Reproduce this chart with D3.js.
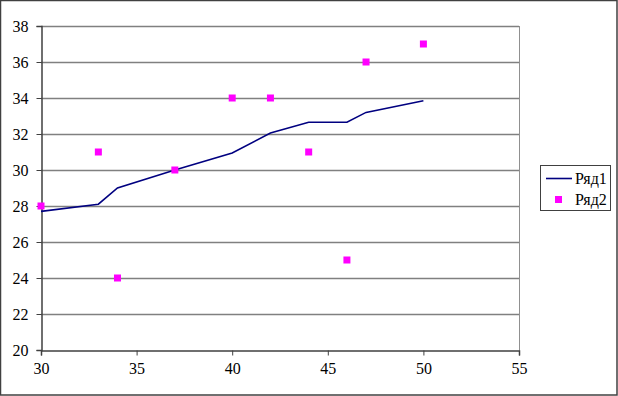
<!DOCTYPE html>
<html>
<head>
    <script src="https://d3js.org/d3.v7.min.js"></script>
    <style>
        body { margin: 0; background: #fff; }
    </style>
</head>
<body>
    <svg width="618" height="396"></svg>
    <script>
        // data
        const lineX = [30, 33, 34, 37, 40, 42, 44, 46, 47, 50];
        const lineY = [27.7, 28.1, 29.0, 30.0, 30.95, 32.05, 32.65, 32.65, 33.2, 33.85];
        const dotX = [30, 33, 34, 37, 40, 42, 44, 46, 47, 50];
        const dotY = [28, 31, 24, 30, 34, 34, 31, 25, 36, 37];
        const xTicks = [30, 35, 40, 45, 50, 55];
        const yTicks = [20, 22, 24, 26, 28, 30, 32, 34, 36, 38];
        const seriesNames = ["Ряд1", "Ряд2"];

        const font = "'Times New Roman', Times, serif";
        const svg = d3.select("svg");

        // outer frame
        svg.append("rect")
            .attr("x", 0.5).attr("y", 0.5)
            .attr("width", 616.5).attr("height", 394.5)
            .attr("fill", "#fff")
            .attr("stroke", "#404040")
            .attr("stroke-width", 1.5);

        const x = d3.scaleLinear().domain([30, 55]).range([41, 519]);
        const y = d3.scaleLinear().domain([20, 38]).range([350, 26]);

        // gridlines
        svg.append("g")
            .selectAll("line")
            .data(yTicks.slice(1))
            .enter().append("line")
            .attr("x1", x(30)).attr("x2", x(55))
            .attr("y1", d => Math.round(y(d)) + 0.5)
            .attr("y2", d => Math.round(y(d)) + 0.5)
            .attr("stroke", "#808080")
            .attr("stroke-width", 1.5);

        // right border of plot
        svg.append("line")
            .attr("x1", x(55) + 0.5).attr("x2", x(55) + 0.5)
            .attr("y1", y(38)).attr("y2", y(20))
            .attr("stroke", "#909090");

        // axes
        const xAxis = d3.axisBottom(x).tickValues(xTicks).tickSize(5).tickPadding(7);
        const yAxis = d3.axisLeft(y).tickValues(yTicks).tickSize(5).tickPadding(8);

        const gx = svg.append("g")
            .attr("transform", `translate(0, ${y(20) + 0.5})`)
            .call(xAxis);
        const gy = svg.append("g")
            .attr("transform", `translate(${x(30) + 0.5}, 0)`)
            .call(yAxis);

        [gx, gy].forEach(g => {
            g.attr("font-family", font).attr("font-size", 16);
            g.select(".domain").attr("stroke", "#404040").attr("stroke-width", 1.5);
            g.selectAll(".tick line").attr("stroke", "#404040");
            g.selectAll("text").attr("fill", "#000");
        });
        gy.selectAll("text").attr("dy", "0.35em");

        // line series
        const lineData = lineX.map((d, i) => [d, lineY[i]]);
        svg.append("path")
            .datum(lineData)
            .attr("fill", "none")
            .attr("stroke", "#000080")
            .attr("stroke-width", 1.6)
            .attr("d", d3.line().x(d => x(d[0])).y(d => y(d[1])));

        // scatter series
        const dotData = dotX.map((d, i) => [d, dotY[i]]);
        svg.selectAll(".dot")
            .data(dotData)
            .enter().append("rect")
            .attr("class", "dot")
            .attr("x", d => x(d[0]) - 3.5)
            .attr("y", d => y(d[1]) - 3.5)
            .attr("width", 7)
            .attr("height", 7)
            .attr("fill", "#ff00ff");

        // legend
        const legend = svg.append("g")
            .attr("font-family", font)
            .attr("font-size", 16);
        legend.append("rect")
            .attr("x", 540.5).attr("y", 165.5)
            .attr("width", 70).attr("height", 45)
            .attr("fill", "#fff")
            .attr("stroke", "#404040");
        legend.append("line")
            .attr("x1", 546).attr("x2", 572)
            .attr("y1", 178.5).attr("y2", 178.5)
            .attr("stroke", "#000080")
            .attr("stroke-width", 1.6);
        legend.append("rect")
            .attr("x", 555).attr("y", 196)
            .attr("width", 7).attr("height", 7)
            .attr("fill", "#ff00ff");
        legend.selectAll(".ltext")
            .data(seriesNames)
            .enter().append("text")
            .attr("class", "ltext")
            .attr("x", 575)
            .attr("y", (d, i) => 184 + i * 21)
            .attr("fill", "#000")
            .text(d => d);
    </script>
</body>
</html>
